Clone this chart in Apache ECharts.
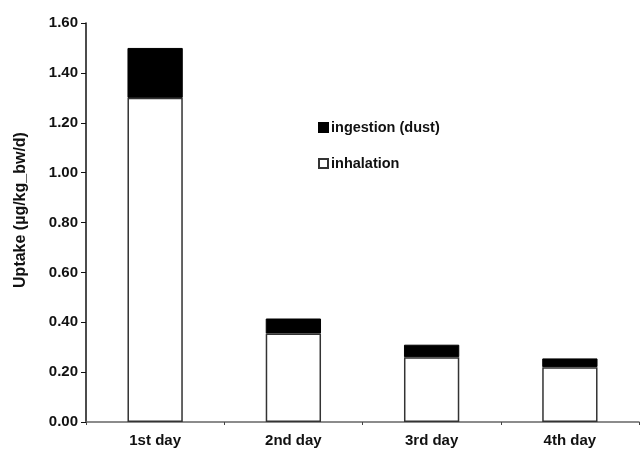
<!DOCTYPE html>
<html>
<head>
<meta charset="utf-8">
<script src="https://cdn.jsdelivr.net/npm/echarts@6/dist/echarts.min.js"></script>
<style>
  html, body { margin: 0; padding: 0; background: #fff; }
  #chart { width: 640px; height: 452px; }
</style>
</head>
<body>
<div id="chart"></div>
<script>
// Daily uptake, split into inhalation and dust ingestion (µg/kg_bw/d)
const days = ['1st day', '2nd day', '3rd day', '4th day'];
const inhalation = [1.30, 0.355, 0.26, 0.22];
const ingestion = [0.20, 0.06, 0.05, 0.035];
const yTicks = [0, 0.2, 0.4, 0.6, 0.8, 1.0, 1.2, 1.4, 1.6];
const yTitle = 'Uptake (µg/kg_bw/d)';

const font = 'Liberation Sans, Arial, sans-serif';
const chart = echarts.init(document.getElementById('chart'));

chart.setOption({
  animation: false,
  backgroundColor: '#fff',
  grid: { left: 86, right: 1, top: 23, bottom: 30, containLabel: false },
  graphic: [{
    type: 'text',
    x: 21,
    y: 210,
    rotation: Math.PI / 2,
    style: {
      text: yTitle,
      x: 0, y: 0,
      align: 'center',
      verticalAlign: 'middle',
      fontFamily: font, fontWeight: 'bold', fontSize: 16, fill: '#111'
    }
  }],
  legend: {
    orient: 'vertical',
    left: 313,
    top: 115,
    itemWidth: 9,
    itemHeight: 9,
    itemGap: 21,
    icon: 'rect',
    data: ['ingestion (dust)', 'inhalation'],
    textStyle: { fontFamily: font, fontWeight: 'bold', fontSize: 14.5, color: '#111', padding: [0, 0, 0, -2] }
  },
  xAxis: {
    type: 'category',
    data: days,
    axisLine: { lineStyle: { color: '#666', width: 1.5 } },
    axisTick: { show: true, length: 3, alignWithLabel: false, lineStyle: { color: '#444' } },
    axisLabel: { fontFamily: font, fontWeight: 'bold', fontSize: 15, color: '#111', margin: 11 }
  },
  yAxis: {
    type: 'value',
    min: yTicks[0],
    max: yTicks[yTicks.length - 1],
    interval: 0.2,
    axisLine: { show: true, lineStyle: { color: '#111', width: 1.5 } },
    axisTick: { show: true, length: 5, lineStyle: { color: '#111' } },
    splitLine: { show: false },
    axisLabel: {
      fontFamily: font, fontWeight: 'bold', fontSize: 15, color: '#111', margin: 8,
      formatter: v => v.toFixed(2)
    }
  },
  series: [
    {
      name: 'inhalation',
      type: 'bar',
      stack: 'uptake',
      barWidth: '40%',
      data: inhalation,
      itemStyle: { color: '#fff', borderColor: '#333', borderWidth: 1.5 }
    },
    {
      name: 'ingestion (dust)',
      type: 'bar',
      stack: 'uptake',
      barWidth: '40%',
      data: ingestion,
      itemStyle: { color: '#000', borderColor: '#000', borderWidth: 1 }
    }
  ]
});
</script>
</body>
</html>
